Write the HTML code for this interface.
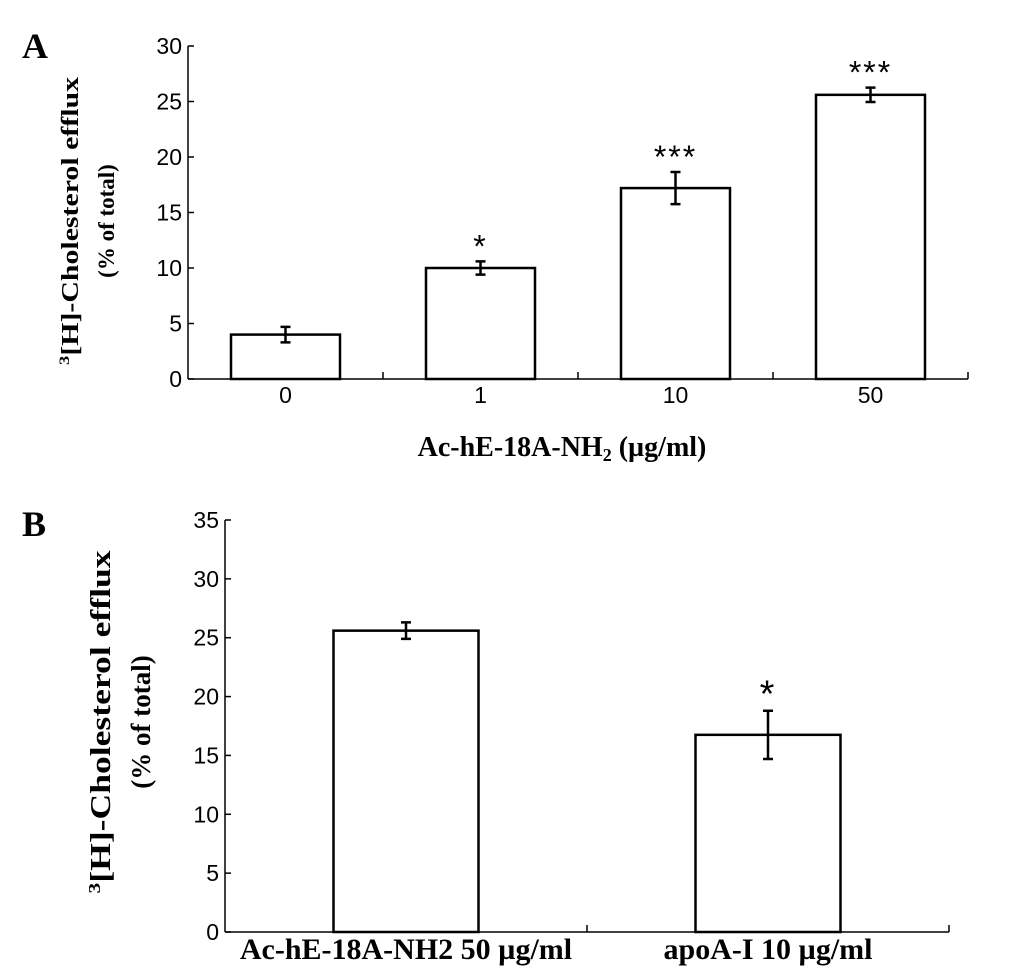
<!DOCTYPE html>
<html><head><meta charset="utf-8"><style>
html,body{margin:0;padding:0;background:#fff}
svg{display:block}
</style></head><body>
<svg id="fig" width="1033" height="973" viewBox="0 0 1033 973" xmlns="http://www.w3.org/2000/svg">
<text x="22" y="58" font-family="Liberation Serif" font-weight="bold" font-size="36">A</text>
<text x="22" y="536" font-family="Liberation Serif" font-weight="bold" font-size="36">B</text>
<text transform="translate(78,221) rotate(-90)" text-anchor="middle" font-family="Liberation Serif" font-weight="bold" font-size="24" textLength="288" lengthAdjust="spacingAndGlyphs"><tspan font-size="15" dy="-9">3</tspan><tspan dy="9">[H]-Cholesterol  efflux</tspan></text>
<text transform="translate(114,221) rotate(-90)" text-anchor="middle" font-family="Liberation Serif" font-weight="bold" font-size="23">(% of total)</text>
<text transform="translate(110,722) rotate(-90)" text-anchor="middle" font-family="Liberation Serif" font-weight="bold" font-size="28" textLength="343" lengthAdjust="spacingAndGlyphs"><tspan font-size="17" dy="-10">3</tspan><tspan dy="10">[H]-Cholesterol  efflux</tspan></text>
<text transform="translate(150,722) rotate(-90)" text-anchor="middle" font-family="Liberation Serif" font-weight="bold" font-size="27">(% of total)</text>
<text x="562" y="456" text-anchor="middle" font-family="Liberation Serif" font-weight="bold" font-size="28">Ac-hE-18A-NH<tspan font-size="18" dy="5">2</tspan><tspan dy="-5"> (µg/ml)</tspan></text>
<g id="ga"></g><g id="gb"></g>
</svg>
<script>
const catsA = ["0","1","10","50"];
const valsA = [4.0, 10.0, 17.2, 25.6];
const errA = [0.7, 0.6, 1.45, 0.65];
const starsA = ["", "*", "***", "***"];
const ticksA = [0,5,10,15,20,25,30];
const catsB = ["Ac-hE-18A-NH2 50 µg/ml","apoA-I 10 µg/ml"];
const valsB = [25.6, 16.75];
const errB = [0.7, 2.05];
const starsB = ["", "*"];
const ticksB = [0,5,10,15,20,25,30,35];
const NS="http://www.w3.org/2000/svg";
function mk(p,tag,at,txt){const e=document.createElementNS(NS,tag);for(const k in at)e.setAttribute(k,at[k]);if(txt!==undefined)e.textContent=txt;p.appendChild(e);return e;}
function panel(g,cfg){
  const {x0,x1,y0,yTop,max,cats,vals,errs,stars,ticks,bw,catFont,catBold,catY,starGap,starSize,tickFont}=cfg;
  const y=v=>y0-(y0-yTop)*v/max;
  const cw=(x1-x0)/cats.length;
  const ax=mk(g,'line',{x1:x0,y1:yTop,x2:x0,y2:y0,stroke:'#000','stroke-width':1.5});
  
  
  const xa=mk(g,'line',{x1:x0,y1:y0,x2:x1,y2:y0,stroke:'#000','stroke-width':1.5});
  
  
  ticks.forEach(t=>{
    const tl=mk(g,'line',{x1:x0,y1:y(t),x2:x0+6,y2:y(t),stroke:'#000','stroke-width':1.5});
    
    
    const tx=mk(g,'text',{x:x0-6,y:y(t)+8,'text-anchor':'end','font-family':'Liberation Sans','font-size':tickFont},String(t));
    
    
  });
  for(let i=1;i<=cats.length;i++){
    const xt=x0+cw*i;
    const tl=mk(g,'line',{x1:xt,y1:y0,x2:xt,y2:y0-7,stroke:'#000','stroke-width':1.5});
    
    
  }
  cats.forEach((c,i)=>{
    const cx=x0+cw*(i+0.5);
    const b=mk(g,'rect',{x:cx-bw/2,y:y(vals[i]),width:bw,height:y0-y(vals[i]),fill:'#fff',stroke:'#000','stroke-width':2.5});
    
    
    const et=y(vals[i]+errs[i]), eb=y(vals[i]-errs[i]);
    const e=mk(g,'path',{d:`M${cx},${et}V${eb}M${cx-5},${et}H${cx+5}M${cx-5},${eb}H${cx+5}`,stroke:'#000','stroke-width':2.5,fill:'none'});
    
    
    if(stars[i]){
      const s=mk(g,'text',{x:cx,y:et-starGap,'text-anchor':'middle','font-family':'Liberation Sans','font-size':starSize,'letter-spacing':'2'},stars[i]);
      
      
    }
    const lt=mk(g,'text',{x:cx,y:catY,'text-anchor':'middle','font-family':catBold?'Liberation Serif':'Liberation Sans','font-weight':catBold?'bold':'normal','font-size':catFont},c);
    
    
  });
}
panel(document.getElementById('ga'),{x0:188,x1:968,y0:379,yTop:46,max:30,cats:catsA,vals:valsA,errs:errA,stars:starsA,ticks:ticksA,bw:109,catFont:23,catBold:false,catY:403,starGap:4,starSize:32,tickFont:23});
panel(document.getElementById('gb'),{x0:225,x1:949,y0:932,yTop:520,max:35,cats:catsB,vals:valsB,errs:errB,stars:starsB,ticks:ticksB,bw:145,catFont:30,catBold:true,catY:959,starGap:4,starSize:38,tickFont:23});
</script>
</body></html>
